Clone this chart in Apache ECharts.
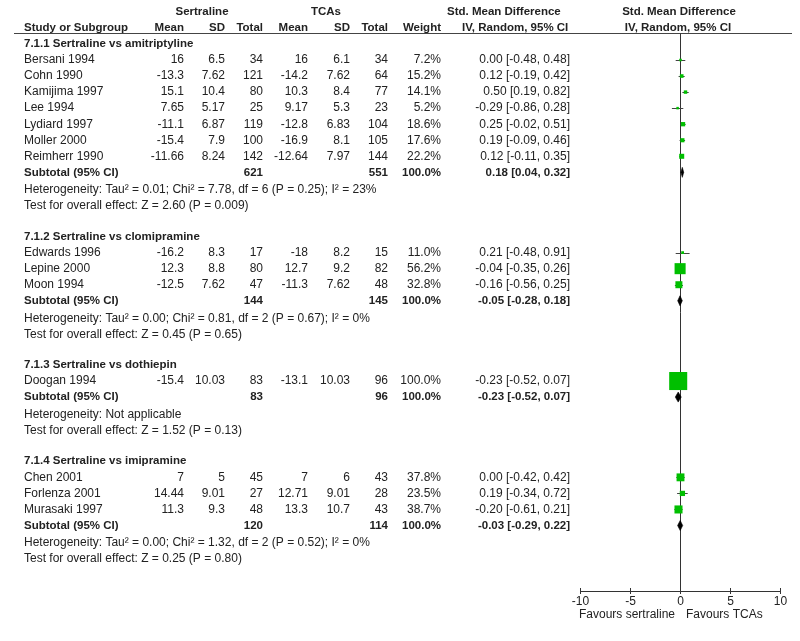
<!DOCTYPE html>
<html>
<head>
<meta charset="utf-8">
<script src="https://cdn.jsdelivr.net/npm/echarts@6/dist/echarts.min.js"></script>
<style>html,body{margin:0;padding:0;background:#fff;}#c{width:800px;height:641px;}</style>
</head>
<body>
<div id="c"></div>
<script>
// ---------------- DATA ----------------
const groups = ['7.1.1 Sertraline vs amitriptyline', '7.1.2 Sertraline vs clomipramine', '7.1.3 Sertraline vs dothiepin', '7.1.4 Sertraline vs imipramine'];
const studies = ['Bersani 1994', 'Cohn 1990', 'Kamijima 1997', 'Lee 1994', 'Lydiard 1997', 'Moller 2000', 'Reimherr 1990',
  'Edwards 1996', 'Lepine 2000', 'Moon 1994', 'Doogan 1994', 'Chen 2001', 'Forlenza 2001', 'Murasaki 1997'];
const studyGroup = [0, 0, 0, 0, 0, 0, 0, 1, 1, 1, 2, 3, 3, 3];
const sMean = [16, -13.3, 15.1, 7.65, -11.1, -15.4, -11.66, -16.2, 12.3, -12.5, -15.4, 7, 14.44, 11.3];
const sSD = [6.5, 7.62, 10.4, 5.17, 6.87, 7.9, 8.24, 8.3, 8.8, 7.62, 10.03, 5, 9.01, 9.3];
const sN = [34, 121, 80, 25, 119, 100, 142, 17, 80, 47, 83, 45, 27, 48];
const tMean = [16, -14.2, 10.3, 9.17, -12.8, -16.9, -12.64, -18, 12.7, -11.3, -13.1, 7, 12.71, 13.3];
const tSD = [6.1, 7.62, 8.4, 5.3, 6.83, 8.1, 7.97, 8.2, 9.2, 7.62, 10.03, 6, 9.01, 10.7];
const tN = [34, 64, 77, 23, 104, 105, 144, 15, 82, 48, 96, 43, 28, 43];
const weight = [7.2, 15.2, 14.1, 5.2, 18.6, 17.6, 22.2, 11.0, 56.2, 32.8, 100.0, 37.8, 23.5, 38.7];
const smd = [0.00, 0.12, 0.50, -0.29, 0.25, 0.19, 0.12, 0.21, -0.04, -0.16, -0.23, 0.00, 0.19, -0.20];
const ciLo = [-0.48, -0.19, 0.19, -0.86, -0.02, -0.09, -0.11, -0.48, -0.35, -0.56, -0.52, -0.42, -0.34, -0.61];
const ciHi = [0.48, 0.42, 0.82, 0.28, 0.51, 0.46, 0.35, 0.91, 0.26, 0.25, 0.07, 0.42, 0.72, 0.21];
const subSN = [621, 144, 83, 120];
const subTN = [551, 145, 96, 114];
const subWeight = [100.0, 100.0, 100.0, 100.0];
const subSmd = [0.18, -0.05, -0.23, -0.03];
const subLo = [0.04, -0.28, -0.52, -0.29];
const subHi = [0.32, 0.18, 0.07, 0.22];
const hetText = [
  'Heterogeneity: Tau\u00b2 = 0.01; Chi\u00b2 = 7.78, df = 6 (P = 0.25); I\u00b2 = 23%',
  'Heterogeneity: Tau\u00b2 = 0.00; Chi\u00b2 = 0.81, df = 2 (P = 0.67); I\u00b2 = 0%',
  'Heterogeneity: Not applicable',
  'Heterogeneity: Tau\u00b2 = 0.00; Chi\u00b2 = 1.32, df = 2 (P = 0.52); I\u00b2 = 0%'];
const testText = [
  'Test for overall effect: Z = 2.60 (P = 0.009)',
  'Test for overall effect: Z = 0.45 (P = 0.65)',
  'Test for overall effect: Z = 1.52 (P = 0.13)',
  'Test for overall effect: Z = 0.25 (P = 0.80)'];
const xTicks = [-10, -5, 0, 5, 10];
const favourLeft = 'Favours sertraline';
const favourRight = 'Favours TCAs';

// ---------------- LAYOUT ----------------
const TXT = '#222';
const GREEN = '#00bf00';
const REG = {fontFamily: 'Liberation Sans, Arial, sans-serif', fontSize: 12, fontWeight: 'normal'};
const BOLD = {fontFamily: 'Liberation Sans, Arial, sans-serif', fontSize: 11.5, fontWeight: 'bold'};
const COL = {name: 24, sMean: 184, sSD: 225, sN: 263, tMean: 308, tSD: 350, tN: 388, w: 441, ci: 570};
const fmtCI = (m, l, h) => m.toFixed(2) + ' [' + l.toFixed(2) + ', ' + h.toFixed(2) + ']';

// Build rows (row index -> y through the y axis scale)
const tableRows = [];
const studyRow = [];
const subRow = [];
tableRows.push({r: -3, cells: [
  {t: 'Sertraline', x: 202, a: 'center', b: 1},
  {t: 'TCAs', x: 326, a: 'center', b: 1},
  {t: 'Std. Mean Difference', x: 447, a: 'left', b: 1},
  {t: 'Std. Mean Difference', x: 679, a: 'center', b: 1}]});
tableRows.push({r: -2, cells: [
  {t: 'Study or Subgroup', x: COL.name, a: 'left', b: 1},
  {t: 'Mean', x: COL.sMean, a: 'right', b: 1},
  {t: 'SD', x: COL.sSD, a: 'right', b: 1},
  {t: 'Total', x: COL.sN, a: 'right', b: 1},
  {t: 'Mean', x: COL.tMean, a: 'right', b: 1},
  {t: 'SD', x: COL.tSD, a: 'right', b: 1},
  {t: 'Total', x: COL.tN, a: 'right', b: 1},
  {t: 'Weight', x: COL.w, a: 'right', b: 1},
  {t: 'IV, Random, 95% CI', x: 462, a: 'left', b: 1},
  {t: 'IV, Random, 95% CI', x: 678, a: 'center', b: 1}]});
let r = -1;
groups.forEach((g, gi) => {
  tableRows.push({r: r, cells: [{t: g, x: COL.name, a: 'left', b: 1}]});
  r++;
  studies.forEach((s, i) => {
    if (studyGroup[i] !== gi) return;
    studyRow[i] = r;
    tableRows.push({r: r, cells: [
      {t: s, x: COL.name, a: 'left'},
      {t: String(sMean[i]), x: COL.sMean, a: 'right'},
      {t: String(sSD[i]), x: COL.sSD, a: 'right'},
      {t: String(sN[i]), x: COL.sN, a: 'right'},
      {t: String(tMean[i]), x: COL.tMean, a: 'right'},
      {t: String(tSD[i]), x: COL.tSD, a: 'right'},
      {t: String(tN[i]), x: COL.tN, a: 'right'},
      {t: weight[i].toFixed(1) + '%', x: COL.w, a: 'right'},
      {t: fmtCI(smd[i], ciLo[i], ciHi[i]), x: COL.ci, a: 'right'}]});
    r++;
  });
  subRow[gi] = r;
  tableRows.push({r: r, cells: [
    {t: 'Subtotal (95% CI)', x: COL.name, a: 'left', b: 1},
    {t: String(subSN[gi]), x: COL.sN, a: 'right', b: 1},
    {t: String(subTN[gi]), x: COL.tN, a: 'right', b: 1},
    {t: subWeight[gi].toFixed(1) + '%', x: COL.w, a: 'right', b: 1},
    {t: fmtCI(subSmd[gi], subLo[gi], subHi[gi]), x: COL.ci, a: 'right', b: 1}]});
  tableRows.push({r: r + 1, dy: 1.5, cells: [{t: hetText[gi], x: COL.name, a: 'left'}]});
  tableRows.push({r: r + 2, dy: 1.5, cells: [{t: testText[gi], x: COL.name, a: 'left'}]});
  r += 4;
});

const Y_MIN = -1.65, Y_MAX = 33.08;

const chart = echarts.init(document.getElementById('c'), null, {renderer: 'canvas', width: 800, height: 641});

const studyData = studies.map((s, i) => [smd[i], studyRow[i], ciLo[i], ciHi[i], weight[i]]);
const subData = groups.map((g, i) => [subSmd[i], subRow[i], subLo[i], subHi[i]]);

chart.setOption({
  animation: false,
  backgroundColor: '#fff',
  grid: {left: 580.5, right: 19.5, top: 33.5, bottom: 50, containLabel: false},
  xAxis: [{
    type: 'value', min: xTicks[0], max: xTicks[xTicks.length - 1], interval: 5, position: 'bottom',
    axisLine: {show: true, onZero: false, lineStyle: {color: '#333', width: 1}},
    axisTick: {show: true, length: 3, lineStyle: {color: '#333'}},
    axisLabel: {show: true, margin: 5, color: TXT, fontSize: 12, fontFamily: REG.fontFamily},
    splitLine: {show: false}
  }, {
    type: 'value', min: xTicks[0], max: xTicks[xTicks.length - 1], interval: 5, position: 'bottom', offset: 0,
    axisLine: {show: false, onZero: false},
    axisTick: {show: true, inside: true, length: 3, lineStyle: {color: '#333'}},
    axisLabel: {show: false},
    splitLine: {show: false}
  }],
  yAxis: {type: 'value', inverse: true, min: Y_MIN, max: Y_MAX, show: false},
  graphic: [
    {type: 'line', shape: {x1: 14, y1: 33.5, x2: 792, y2: 33.5}, style: {stroke: '#444', lineWidth: 1}},
    {type: 'text', style: {text: favourLeft, x: 675, y: 615, align: 'right', verticalAlign: 'middle', fill: TXT, font: '12px Liberation Sans, Arial, sans-serif'}},
    {type: 'text', style: {text: favourRight, x: 686, y: 615, align: 'left', verticalAlign: 'middle', fill: TXT, font: '12px Liberation Sans, Arial, sans-serif'}}
  ],
  series: [
    {
      type: 'line', data: [[0, Y_MIN], [0, Y_MAX]], symbol: 'none', silent: true,
      lineStyle: {color: '#333', width: 1}, z: 1
    },
    {
      type: 'custom', name: 'studies', data: studyData, z: 3, silent: true,
      encode: {x: 0, y: 1},
      renderItem: function (params, api) {
        const y = api.coord([0, api.value(1)])[1];
        const pm = api.coord([api.value(0), api.value(1)]);
        const pl = api.coord([api.value(2), api.value(1)]);
        const ph = api.coord([api.value(3), api.value(1)]);
        const w = api.value(4);
        const s = Math.max(2.5, 0.36 * Math.pow(w, 0.85));
        return {type: 'group', children: [
          {type: 'line', shape: {x1: pl[0], y1: Math.round(y) + 0.5, x2: ph[0], y2: Math.round(y) + 0.5}, style: {stroke: '#444', lineWidth: 1}},
          {type: 'rect', shape: {x: pm[0] - s / 2, y: y - s / 2, width: s, height: s}, style: {fill: GREEN}}
        ]};
      }
    },
    {
      type: 'custom', name: 'subtotals', data: subData, z: 3, silent: true,
      encode: {x: 0, y: 1},
      renderItem: function (params, api) {
        const pm = api.coord([api.value(0), api.value(1)]);
        const pl = api.coord([api.value(2), api.value(1)]);
        const ph = api.coord([api.value(3), api.value(1)]);
        const h = 5;
        return {type: 'polygon', shape: {points: [[pl[0], pm[1]], [pm[0], pm[1] - h], [ph[0], pm[1]], [pm[0], pm[1] + h]]},
          style: {fill: '#000', stroke: '#000', lineWidth: 0.6}};
      }
    },
    {
      type: 'custom', name: 'table', z: 2, silent: true,
      data: tableRows.map((t, i) => [0, t.r, i]),
      encode: {x: 0, y: 1},
      renderItem: function (params, api) {
        const row = tableRows[api.value(2)];
        const y = api.coord([0, api.value(1)])[1] + (row.dy || 0);
        return {type: 'group', children: row.cells.map(c => {
          const f = c.b ? BOLD : REG;
          return {type: 'text', style: {text: c.t, x: c.x, y: y, align: c.a, verticalAlign: 'middle',
            fill: TXT, fontFamily: f.fontFamily, fontSize: f.fontSize, fontWeight: f.fontWeight}};
        })};
      }
    }
  ]
});
</script>
</body>
</html>
